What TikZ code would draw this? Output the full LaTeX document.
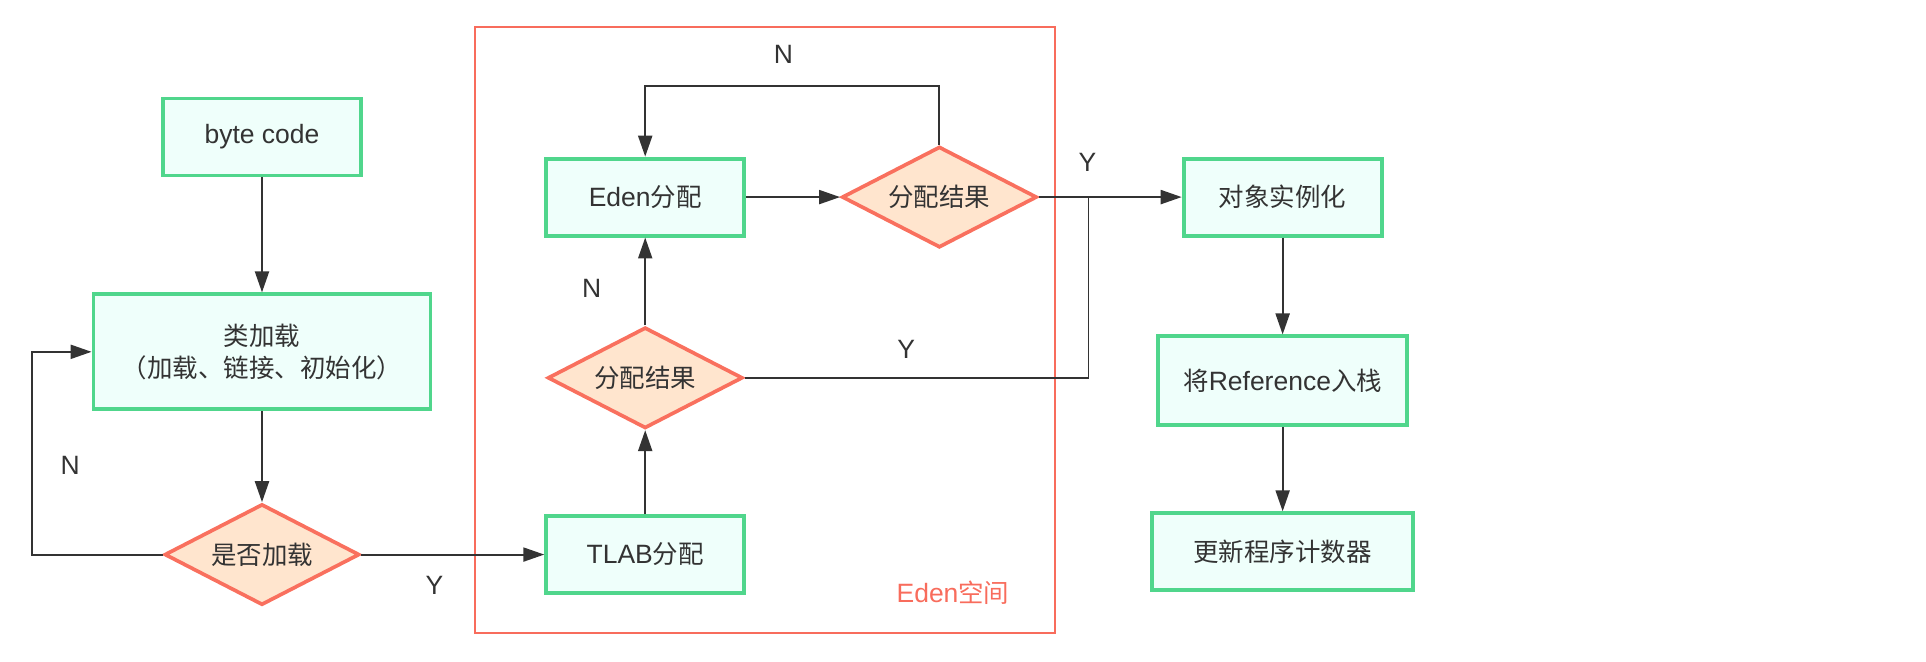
\documentclass[tikz,border=0pt]{standalone}
\usepackage{fontspec}
\setmainfont{Liberation Sans}[Scale=1.04]
\newfontfamily\cjk{Noto Sans CJK SC}
\newcommand{\zh}[1]{{\cjk #1}}
\usepackage{tikz}
\usetikzlibrary{shapes.geometric, arrows.meta, positioning}
\definecolor{ink}{RGB}{51,51,51}
\definecolor{boxline}{RGB}{80,214,140}
\definecolor{boxfill}{RGB}{239,255,251}
\definecolor{decline}{RGB}{249,112,94}
\definecolor{decfill}{RGB}{255,229,206}
\definecolor{edenline}{RGB}{248,108,92}

\begin{document}
\begin{tikzpicture}[x=0.02cm, y=-0.02cm, node distance=1.8cm and 3.6cm, font=\fontsize{14.5}{18.2}\selectfont]

        % Define styles
        \tikzstyle{block} = [rectangle, draw=boxline, line width=2.2pt, fill=boxfill, text=ink, minimum width=3.96cm, minimum height=1.54cm, align=center]
        \tikzstyle{decision} = [diamond, draw=decline, line width=2.1pt, fill=decfill, text=ink, minimum width=3.9cm, minimum height=2.02cm, aspect=2, inner sep=1pt]
        \tikzstyle{line} = [draw=ink, line width=1.2pt]
        \tikzstyle{flow} = [line, -{Triangle[length=0.42cm, width=0.28cm]}]
        \tikzstyle{lbl} = [text=ink, inner sep=0pt]
        \tikzstyle{spacebox} = [rectangle, draw=edenline, line width=0.85pt]

        \useasboundingbox (0,0) rectangle (1926,662);

        % Eden space
        \node [spacebox, minimum width=11.6cm, minimum height=12.12cm] (edenspace) at (765,330) {};
        \node [text=edenline] (edenlabel) at (953,593) {Eden\zh{空间}};

        % Place nodes
        \node [block] (bytecode) at (262,137) {byte code};
        \node [block, below=2.3cm of bytecode, minimum width=6.74cm, minimum height=2.3cm] (classload) {\zh{类加载}\\\zh{（加载、链接、初始化）}};
        \node [decision, below=1.82cm of classload] (isload) {\zh{是否加载}};
        \node [block, right=3.66cm of isload] (tlab) {TLAB\zh{分配}};
        \node [decision, above=1.68cm of tlab] (alloc1) {\zh{分配结果}};
        \node [block, above=1.76cm of alloc1] (eden) {Eden\zh{分配}};
        \node [decision, right=1.88cm of eden] (alloc2) {\zh{分配结果}};
        \node [block, right=2.86cm of alloc2] (object) {\zh{对象实例化}};
        \node [block, below=1.94cm of object, minimum width=4.98cm, minimum height=1.78cm] (pushref) {\zh{将}Reference\zh{入栈}};
        \node [block, below=1.68cm of pushref, minimum width=5.22cm] (updatepc) {\zh{更新程序计数器}};

        % Draw edges
        \path [flow] (bytecode) -- (classload);
        \path [flow] (classload) -- (isload);
        \path [flow] (isload) -- node [lbl, pos=0.4, below=0.42cm] {Y} (tlab);
        \path [flow] (isload.west) -- ++(-131,0) |- node [lbl, pos=0.22, right=0.56cm] {N} (classload.west);
        \path [flow] (tlab) -- (alloc1);
        \path [flow] (alloc1) -- node [lbl, pos=0.42, left=0.86cm] {N} (eden);
        \path [flow] (eden) -- (alloc2);
        \path [flow] (alloc2.north) -- ++(0,-59) -| node [lbl, pos=0.265, above=0.42cm] {N} (eden.north);
        \path [flow] (alloc2) -- node [lbl, pos=0.34, above=0.5cm] {Y} (object);

        % Join of the two results
        \coordinate [right=1cm of alloc2.east] (join);
        \path [line, line width=0.8pt] (alloc1) -| node [lbl, pos=0.235, above=0.38cm] {Y} (join);
        \path [flow] (object) -- (pushref);
        \path [flow] (pushref) -- (updatepc);

    \end{tikzpicture}
\end{document}
